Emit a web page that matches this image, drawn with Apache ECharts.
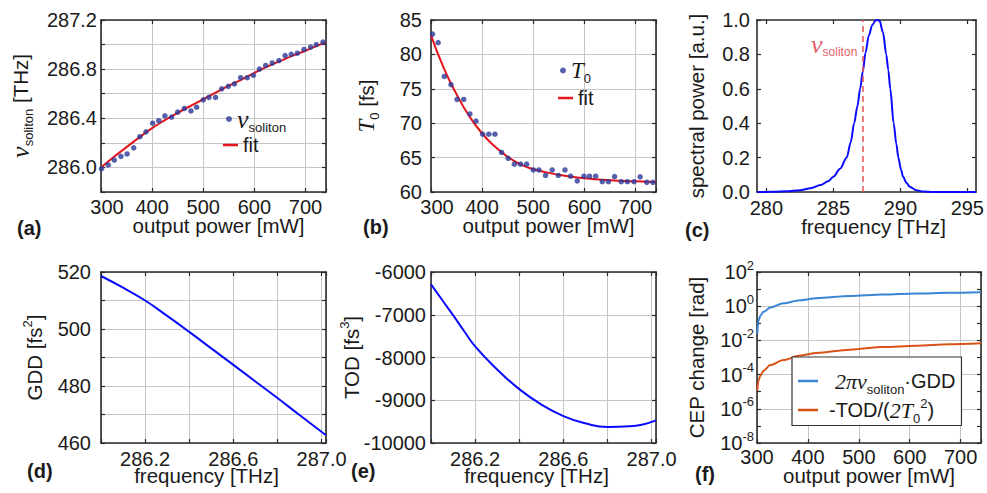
<!DOCTYPE html>
<html><head><meta charset="utf-8">
<script src="https://cdn.jsdelivr.net/npm/echarts@6/dist/echarts.min.js"></script>
<style>html,body{margin:0;padding:0;background:#fff}#c{width:987px;height:493px}</style>
</head><body><div id="c"></div>
<script>
// ---------- data: panel (a) ----------
const aPower = [301,314,326,339,351,364,376,388,401,413,425,438,450,463,476,487,500,511,524,536,549,561,573,586,598,610,622,635,648,660,672,684,697,710,721,734];
const aNu = [285.99,286.02,286.06,286.09,286.11,286.16,286.25,286.29,286.36,286.38,286.42,286.41,286.45,286.48,286.46,286.49,286.55,286.57,286.57,286.64,286.66,286.68,286.73,286.73,286.75,286.80,286.83,286.85,286.87,286.91,286.92,286.93,286.96,286.98,287.00,287.02];
const aFitPower = [300,325,350,375,400,425,450,475,500,525,550,575,600,625,650,675,700,720,740];
const aFitNu = [286.00,286.085,286.165,286.245,286.32,286.385,286.445,286.50,286.555,286.61,286.665,286.715,286.77,286.82,286.865,286.91,286.95,286.985,287.02];
const aXLabels = [300,400,500,600,700];
const aYLabels = [286.0,286.4,286.8,287.2];
// ---------- data: panel (b) ----------
const bPower = [303,314,326,339,351,364,376,388,401,413,425,438,451,463,475,487,500,511,524,537,549,562,573,586,599,610,622,635,647,659,672,684,697,709,722,734];
const bT0 = [82.95,81.7,76.8,75.6,73.45,73.45,71.35,70.3,68.4,68.4,68.4,65.75,64.9,64.05,64.05,64.05,63.2,63.2,62.4,63.2,62.4,63.2,62.3,61.6,62.3,62.3,62.3,61.5,61.5,62.25,61.5,61.5,61.5,62.2,61.4,61.4];
const bFitPower = [300,325,350,375,400,425,450,475,500,550,600,650,700,740];
const bFitT0 = [82.8,78.0,74.2,71.0,68.5,66.6,65.1,64.0,63.3,62.5,62.0,61.7,61.55,61.45];
const bXLabels = [300,400,500,600,700];
const bYLabels = [60,65,70,75,80,85];
// ---------- data: panel (c) ----------
const cFreq = [279.3,280.5,281.5,282.5,283.3,284.05,284.6,285.0,285.5,286.0,286.3,286.55,286.8,287.0,287.2,287.4,287.65,287.9,288.15,288.3,288.45,288.7,288.95,289.1,289.25,289.5,289.7,289.85,290.05,290.2,290.45,290.7,291.2,291.7,292.5,295.65];
const cPower = [0.0,0.001,0.004,0.01,0.022,0.04,0.062,0.088,0.135,0.2,0.29,0.4,0.5,0.6,0.7,0.81,0.91,0.97,0.997,1.0,0.995,0.93,0.8,0.71,0.6,0.4,0.28,0.2,0.13,0.09,0.055,0.03,0.01,0.003,0.0,0.0];
const cNuSoliton = 287.22;
const cLabelAt = [283.3, 0.86];
const cXTicks = [280,285,290,295];
const cYLabels = [0,0.2,0.4,0.6,0.8,1.0];
// ---------- data: panel (d) ----------
const dFreq = [286.0,286.1,286.2,286.3,286.4,286.5,286.6,286.7,286.8,286.9,287.02];
const dGDD = [518.6,514.5,510.0,504.6,499.0,493.2,487.4,481.6,475.8,469.8,462.7];
const dXLabels = [286.2,286.6,287.0];
const dYLabels = [460,480,500,520];
// ---------- data: panel (e) ----------
const eFreq = [286.0,286.05,286.1,286.15,286.2,286.3,286.4,286.5,286.6,286.7,286.8,286.9,287.02];
const eTOD = [-6290,-6650,-7010,-7380,-7740,-8280,-8740,-9100,-9370,-9540,-9625,-9610,-9470];
const eXLabels = [286.2,286.6,287.0];
const eYLabels = [-10000,-9000,-8000,-7000,-6000];
// ---------- data: panel (f) ----------
const fPower = [300.5,303,306.5,313,326,352,384,417,482,547,612,677,740];
const fGDDterm = [0.025,0.14,0.275,0.47,0.83,1.48,2.24,2.95,3.98,4.79,5.5,6.03,6.6];
const fTODterm = [1.17e-5,4.5e-5,8.7e-5,1.7e-4,3.6e-4,7.1e-4,1.29e-3,1.82e-3,2.88e-3,4.07e-3,4.9e-3,5.9e-3,6.8e-3];
const fXLabels = [300,400,500,600,700];
const fYLabelExps = [-8,-6,-4,-2,0,2];

// ---------- styling ----------
const SANS = "'Liberation Sans', Arial, Helvetica, sans-serif";
const SERIF = "'Liberation Serif', 'Times New Roman', serif";
const TXT = '#1a1a1a';
const AXC = '#2b2b2b';
const GRIDC = '#c6c6c6';
const PTS = '#2c3a9a';
const RED = '#e3141b';
const BLUE = '#0a0aff';

function rich(color) {
  return {
    nu: {fontFamily: SERIF, fontStyle: 'italic', fontSize: 26, color: color},
    it: {fontFamily: SERIF, fontStyle: 'italic', fontSize: 23, color: color},
    sub: {fontFamily: SANS, fontSize: 13, padding: [16, 0, 0, 0], color: color},
    subs: {fontFamily: SANS, fontSize: 12, padding: [16, 0, 0, 0], color: color},
    sup: {fontFamily: SANS, fontSize: 13, padding: [0, 0, 14, 0], color: color},
    itA: {fontFamily: SERIF, fontStyle: 'italic', fontSize: 22, padding: [0, 0, 0, 12], color: color},
    plA: {fontFamily: SANS, fontSize: 20, padding: [0, 0, 0, 6], color: color},
    it2: {fontFamily: SERIF, fontStyle: 'italic', fontSize: 22, color: color},
    first: {fontFamily: SANS, fontSize: 20, padding: [0, 0, 0, 12], color: color}
  };
}
const RICH = rich(TXT);

function inList(v, list) { return list.some(t => Math.abs(t - v) < 1e-6); }
function zip(xs, ys) { return xs.map((x, i) => [x, ys[i]]); }
function fmtList(list, digits, shiftFirst) {
  return v => {
    if (!inList(v, list)) return '';
    const s = digits == null ? String(v) : v.toFixed(digits);
    return (shiftFirst && Math.abs(v - list[0]) < 1e-6) ? '{first|' + s + '}' : s;
  };
}

const xAxes = [], yAxes = [];
function addAxes(dim, gi, o) {
  const common = {
    type: o.type || 'value', gridIndex: gi, min: o.min, max: o.max,
    axisLine: {show: true, onZero: false, lineStyle: {color: AXC, width: 1.6}},
    axisTick: {show: true, inside: true, length: 4, lineStyle: {color: AXC, width: 1.2}}
  };
  if (o.interval != null) common.interval = o.interval;
  if (o.splitNumber != null) common.splitNumber = o.splitNumber;
  if (o.logBase != null) common.logBase = o.logBase;
  if (o.custom) common.axisTick = Object.assign({}, common.axisTick, {customValues: o.custom});
  const main = Object.assign({}, common, {
    position: dim === 'x' ? 'bottom' : 'left',
    splitLine: {show: !!o.grid, lineStyle: {color: o.gridColor || GRIDC, width: 1}},
    axisLabel: {show: true, margin: o.labelMargin, color: TXT, fontSize: 20, fontFamily: SANS,
      lineHeight: 14, formatter: o.labelFmt, showMaxLabel: true, showMinLabel: true,
      rich: RICH, hideOverlap: false},
    name: o.name, nameLocation: 'middle', nameGap: o.nameGap, nameMoveOverlap: false,
    nameTextStyle: Object.assign({color: TXT, fontSize: 20.5, fontFamily: SANS, rich: RICH},
      dim === 'x' ? {lineHeight: 14} : {}, o.nameStyle || {})
  });
  if (o.custom) main.axisLabel.customValues = o.custom;
  const mirror = Object.assign({}, common, {
    position: dim === 'x' ? 'top' : 'right',
    splitLine: {show: false}, axisLabel: {show: false}
  });
  (dim === 'x' ? xAxes : yAxes).push(main, mirror);
}

// panel (a)
addAxes('x', 0, {min: 300, max: 740, interval: 100, grid: true, labelFmt: fmtList(aXLabels, null, true), labelMargin: 8,
  name: 'output power [mW]', nameGap: 26, nameStyle: {padding: [0, 0, 0, 10]}});
addAxes('y', 0, {min: 285.8, max: 287.2, interval: 0.2, grid: true, labelFmt: fmtList(aYLabels, 1), labelMargin: 4,
  name: '{nu|ν}{sub|soliton} [THz]', nameGap: 66});
// panel (b)
addAxes('x', 1, {min: 300, max: 740, interval: 100, grid: true, labelFmt: fmtList(bXLabels, null, true), labelMargin: 8,
  name: 'output power [mW]', nameGap: 26, nameStyle: {padding: [0, 0, 0, 10]}});
addAxes('y', 1, {min: 60, max: 85, interval: 5, grid: true, labelFmt: fmtList(bYLabels), labelMargin: 9,
  name: '{it|T}{sub|0} [fs]', nameGap: 50});
// panel (c)
addAxes('x', 2, {min: 279.3, max: 295.65, custom: cXTicks, grid: false, labelFmt: v => String(v), labelMargin: 9,
  name: 'frequency [THz]', nameGap: 27, nameStyle: {padding: [0, 0, 0, 14]}});
addAxes('y', 2, {min: 0, max: 1, interval: 0.2, grid: false, labelFmt: fmtList(cYLabels, 1), labelMargin: 7,
  name: 'spectral power [a.u.]', nameGap: 50});
// panel (d)
addAxes('x', 3, {min: 286.0, max: 287.02, interval: 0.2, grid: true, labelFmt: fmtList(dXLabels, 1), labelMargin: 9,
  name: 'frequency [THz]', nameGap: 25, nameStyle: {padding: [0, 14, 0, 0]}});
addAxes('y', 3, {min: 460, max: 520, interval: 10, grid: true, labelFmt: fmtList(dYLabels), labelMargin: 10,
  name: 'GDD [fs{sup|2}]', nameGap: 53});
// panel (e)
addAxes('x', 4, {min: 286.0, max: 287.02, interval: 0.2, grid: true, labelFmt: fmtList(eXLabels, 1), labelMargin: 9,
  name: 'frequency [THz]', nameGap: 25, nameStyle: {padding: [0, 14, 0, 0]}});
addAxes('y', 4, {min: -10000, max: -6000, interval: 1000, grid: true, labelFmt: fmtList(eYLabels), labelMargin: 5,
  name: 'TOD [fs{sup|3}]', nameGap: 66});
// panel (f)
addAxes('x', 5, {min: 300, max: 740, interval: 100, grid: true, labelFmt: fmtList(fXLabels), labelMargin: 7,
  name: 'output power [mW]', nameGap: 25});
addAxes('y', 5, {type: 'log', logBase: 10, min: 1.0001e-8, max: 1e2, splitNumber: 8, grid: true,
  gridColor: [GRIDC, 'rgba(0,0,0,0)'],
  labelFmt: v => { const e = Math.round(Math.log10(v)); return inList(e, fYLabelExps) ? '10{sup|' + e + '}' : ''; },
  labelMargin: 3, name: 'CEP change [rad]', nameGap: 50});

const legendText = {
  aPts: '{nu|ν}{sub|soliton}',
  aFit: 'fit',
  bPts: '{it|T}{sub|0}',
  bFit: 'fit',
  fGDD: '{itA|2πν}{sub|soliton}·GDD',
  fTOD: '{plA|-TOD/(}{it2|2T}{sub|0}{sup|2})'
};
function legendItem(name, left, top, w, h, icon) {
  return {
    data: [{name: name, icon: icon}], left: left, top: top, itemWidth: w, itemHeight: h, padding: 0,
    selectedMode: false, formatter: n => legendText[n],
    textStyle: {color: TXT, fontSize: 20, fontFamily: SANS, rich: RICH}
  };
}

const option = {
  animation: false,
  textStyle: {fontFamily: SANS},
  title: [
    {text: '(a)', left: 17, top: 218},
    {text: '(b)', left: 363, top: 217},
    {text: '(c)', left: 685, top: 220},
    {text: '(d)', left: 27, top: 461},
    {text: '(e)', left: 351, top: 461},
    {text: '(f)', left: 695, top: 464}
  ].map(t => Object.assign(t, {padding: 0, textStyle: {fontSize: 20, fontWeight: 'bold', color: TXT, fontFamily: SANS}})),
  grid: [
    {left: 101, top: 20, width: 225, height: 172},
    {left: 431, top: 20, width: 225, height: 172},
    {left: 757, top: 20, width: 225, height: 172},
    {left: 101, top: 272, width: 225, height: 171},
    {left: 431, top: 272, width: 225, height: 171},
    {left: 757, top: 272, width: 224, height: 171}
  ],
  xAxis: xAxes,
  yAxis: yAxes,
  legend: [
    legendItem('aPts', 226, 106, 6, 6, 'circle'),
    legendItem('aFit', 223, 135, 15, 2.5, 'rect'),
    legendItem('bPts', 560, 59, 6, 6, 'circle'),
    legendItem('bFit', 558, 88, 15, 2.5, 'rect'),
    {
      data: [{name: 'fGDD', icon: 'rect'}, {name: 'fTOD', icon: 'rect'}], orient: 'vertical', left: 792, top: 357,
      itemWidth: 20, itemHeight: 2.5, itemGap: 1, padding: [13, 6, 1, 6], borderColor: '#333', borderWidth: 1.2,
      backgroundColor: '#fff', selectedMode: false, formatter: n => legendText[n],
      textStyle: {color: TXT, fontSize: 20, fontFamily: SANS, rich: RICH}
    }
  ],
  series: [
    {name: 'aFit', type: 'line', xAxisIndex: 0, yAxisIndex: 0, data: zip(aFitPower, aFitNu), symbol: 'none',
      smooth: true, lineStyle: {color: RED, width: 2}, itemStyle: {color: RED}, z: 2},
    {name: 'aPts', type: 'scatter', xAxisIndex: 0, yAxisIndex: 0, data: zip(aPower, aNu), symbolSize: 5.5,
      itemStyle: {color: PTS}, z: 3},
    {name: 'bFit', type: 'line', xAxisIndex: 2, yAxisIndex: 2, data: zip(bFitPower, bFitT0), symbol: 'none',
      smooth: true, lineStyle: {color: RED, width: 2}, itemStyle: {color: RED}, z: 2},
    {name: 'bPts', type: 'scatter', xAxisIndex: 2, yAxisIndex: 2, data: zip(bPower, bT0), symbolSize: 5.5,
      itemStyle: {color: PTS}, z: 3},
    {name: 'spectrum', type: 'line', xAxisIndex: 4, yAxisIndex: 4, data: zip(cFreq, cPower), symbol: 'none',
      smooth: 0.3, smoothMonotone: 'x', lineStyle: {color: BLUE, width: 2},
      markLine: {silent: true, symbol: ['none', 'none'], label: {show: false},
        lineStyle: {color: '#e8505a', type: [6, 4], width: 1.5}, data: [{xAxis: cNuSoliton}]}},
    {name: 'nuLabel', type: 'scatter', xAxisIndex: 4, yAxisIndex: 4, data: [cLabelAt], symbolSize: 1,
      itemStyle: {color: 'rgba(0,0,0,0)'},
      label: {show: true, position: 'right', distance: 0, formatter: '{nu|ν}{subs|soliton}', rich: rich('#dc2f38')}},
    {name: 'gdd', type: 'line', xAxisIndex: 6, yAxisIndex: 6, data: zip(dFreq, dGDD), symbol: 'none',
      smooth: true, lineStyle: {color: BLUE, width: 2}},
    {name: 'tod', type: 'line', xAxisIndex: 8, yAxisIndex: 8, data: zip(eFreq, eTOD), symbol: 'none',
      smooth: true, lineStyle: {color: BLUE, width: 2}},
    {name: 'fGDD', type: 'line', xAxisIndex: 10, yAxisIndex: 10, data: zip(fPower, fGDDterm), symbol: 'none',
      smooth: 0.3, smoothMonotone: 'x', lineStyle: {color: '#3a86d4', width: 2}, itemStyle: {color: '#3a86d4'}},
    {name: 'fTOD', type: 'line', xAxisIndex: 10, yAxisIndex: 10, data: zip(fPower, fTODterm), symbol: 'none',
      smooth: 0.3, smoothMonotone: 'x', lineStyle: {color: '#d95319', width: 2}, itemStyle: {color: '#d95319'}}
  ]
};

const chart = echarts.init(document.getElementById('c'), null, {renderer: 'svg', width: 987, height: 493});
chart.setOption(option);
</script>
</body></html>
